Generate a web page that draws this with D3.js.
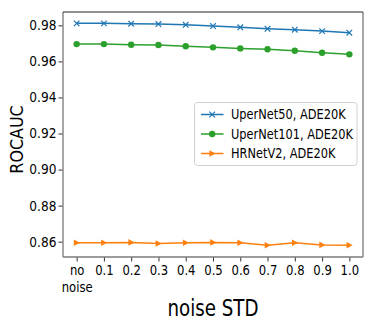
<!DOCTYPE html>
<html><head><meta charset="utf-8">
<script src="https://cdn.jsdelivr.net/npm/d3@7"></script>
<style>
html,body{margin:0;padding:0;background:#fff;}
text{font-family:"DejaVu Sans",sans-serif;fill:#000;}
</style></head>
<body><svg id="c" width="374" height="332"></svg>
<script>
const categories = ["no noise","0.1","0.2","0.3","0.4","0.5","0.6","0.7","0.8","0.9","1.0"];
const seriesNames = ["UperNet50, ADE20K","UperNet101, ADE20K","HRNetV2, ADE20K"];
const upernet50 = [0.9811,0.9811,0.9809,0.9807,0.9803,0.9796,0.9789,0.9781,0.9776,0.9768,0.9759];
const upernet101 = [0.9696,0.9696,0.9692,0.9691,0.9684,0.9678,0.9672,0.9667,0.9659,0.9648,0.9639];
const hrnetv2 = [0.8594,0.8594,0.8596,0.8590,0.8594,0.8596,0.8594,0.8580,0.8594,0.8582,0.8580];
const yTicks = [0.86,0.88,0.90,0.92,0.94,0.96,0.98];
const colors = ["#1f77b4","#2ca02c","#ff7f0e"];
const markers = ["x","circle","triangleRight"];

const svg = d3.select("#c");
const L=63, R=363, T=12, B=257;
const x = d3.scalePoint().domain(categories).range([L,R]).padding(0.5);
const y = d3.scaleLinear().domain([0.8515,0.9874]).range([B,T]);

function squeeze(sel,f){
  sel.each(function(){
    const w=this.getComputedTextLength();
    d3.select(this).attr("textLength",w*f).attr("lengthAdjust","spacingAndGlyphs");
  });
}

// axes
const gy = svg.append("g").attr("transform",`translate(${L},0)`)
  .call(d3.axisLeft(y).tickValues(yTicks).tickFormat(d3.format(".2f")).tickSize(4.5).tickPadding(2));
gy.select(".domain").remove();
gy.selectAll("line").attr("stroke","#333").attr("stroke-width",1);
gy.selectAll("text").style("font-size","13.7px").attr("fill","#000").call(squeeze,0.89);

const gx = svg.append("g").attr("transform",`translate(0,${B})`)
  .call(d3.axisBottom(x).tickSize(4.5).tickPadding(3.5));
gx.select(".domain").remove();
gx.selectAll("line").attr("stroke","#333").attr("stroke-width",1);
gx.selectAll("text").style("font-size","13.7px").attr("fill","#000").each(function(d){
  const t=d3.select(this);
  const parts=d.split(" ");
  if(parts.length>1){
    t.text(null);
    parts.forEach((p,i)=>{
      t.append("tspan").attr("x",0).attr("dy",i===0?"0.71em":"17px").text(p);
    });
    t.attr("dy",null);
    t.selectAll("tspan").call(squeeze,0.85);
  } else {
    squeeze(t,0.85);
  }
});

// spines
svg.append("line").attr("x1",L).attr("x2",L).attr("y1",T).attr("y2",B).attr("stroke","#8a8a8a").attr("stroke-width",1.5);
svg.append("line").attr("x1",L).attr("x2",R).attr("y1",B).attr("y2",B).attr("stroke","#7a7a7a").attr("stroke-width",1.5);
svg.append("line").attr("x1",R).attr("x2",R).attr("y1",T).attr("y2",B).attr("stroke","#8a8a8a").attr("stroke-width",1.5);
svg.append("line").attr("x1",L).attr("x2",R).attr("y1",T).attr("y2",T).attr("stroke","#222").attr("stroke-width",1.2);

// series
const series = [upernet50, upernet101, hrnetv2];
const line = d3.line().x((d,i)=>x(categories[i])).y(d=>y(d));

function drawMarker(g,type,color,cx,cy){
  if(type==="x"){
    const s=2.8;
    g.append("path").attr("d",`M${cx-s},${cy-s}L${cx+s},${cy+s}M${cx-s},${cy+s}L${cx+s},${cy-s}`)
      .attr("stroke",color).attr("stroke-width",1.2).attr("fill","none");
  } else if(type==="circle"){
    g.append("circle").attr("cx",cx).attr("cy",cy).attr("r",3.2).attr("fill",color);
  } else {
    const s=3.3;
    g.append("path").attr("d",`M${cx+s},${cy}L${cx-s*0.85},${cy-s}L${cx-s*0.85},${cy+s}Z`).attr("fill",color);
  }
}

series.forEach((vals,k)=>{
  const g=svg.append("g");
  g.append("path").datum(vals).attr("d",line).attr("fill","none").attr("stroke",colors[k]).attr("stroke-width",1.5);
  vals.forEach((v,i)=>drawMarker(g,markers[k],colors[k],x(categories[i]),y(v)));
});

// legend
const lg = svg.append("g");
lg.append("rect").attr("x",194.5).attr("y",102.5).attr("width",162.5).attr("height",63)
  .attr("rx",3).attr("fill","#fff").attr("fill-opacity",0.8).attr("stroke","#d0d0d0").attr("stroke-width",1);
const legY=[114.5,134,153.5];
seriesNames.forEach((n,k)=>{
  const yy=legY[k];
  lg.append("line").attr("x1",201).attr("x2",223.5).attr("y1",yy).attr("y2",yy).attr("stroke",colors[k]).attr("stroke-width",1.5);
  drawMarker(lg,markers[k],colors[k],212.2,yy);
  lg.append("text").attr("transform",`translate(231,${yy}) scale(0.832,1)`).attr("dy","0.36em")
    .style("font-size","13.7px").text(n);
});

// axis labels
svg.append("text").attr("transform","translate(213,315.7) scale(0.81,1)").attr("text-anchor","middle").style("font-size","22.5px")
  .text("noise STD");
svg.append("text").attr("transform","translate(23,139.5) rotate(-90) scale(0.87,1)").attr("text-anchor","middle").style("font-size","18.3px")
  .text("ROCAUC");
</script></body></html>
